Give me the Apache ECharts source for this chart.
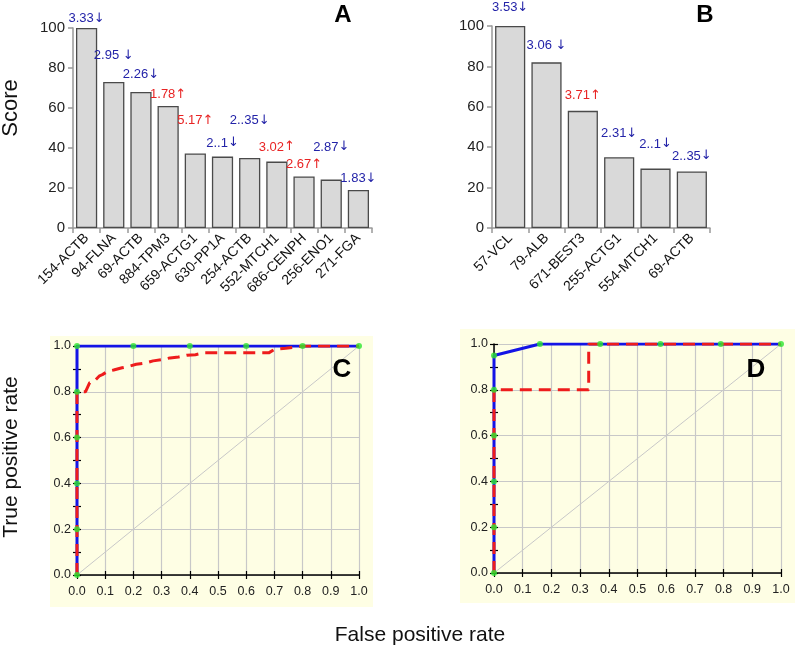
<!DOCTYPE html>
<html><head><meta charset="utf-8">
<script src="https://cdn.jsdelivr.net/npm/echarts@6/dist/echarts.min.js"></script>
<style>html,body{margin:0;padding:0;background:#fff}#c{width:795px;height:648px}</style>
</head><body><div id="c"></div>
<script>
// ---- Data ----
const catsA = ['154-ACTB','94-FLNA','69-ACTB','884-TPM3','659-ACTG1','630-PP1A','254-ACTB','552-MTCH1','686-CENPH','256-ENO1','271-FGA'];
const valsA = [100, 73, 68, 61, 37.3, 35.7, 35, 33.2, 25.8, 24.2, 19];
const labelsA = ['3.33↓','2.95 ↓','2.26↓','1.78↑','5.17↑','2..1↓','2..35↓','3.02↑','2.67↑','2.87↓','1.83↓'];

const catsB = ['57-VCL','79-ALB','671-BEST3','255-ACTG1','554-MTCH1','69-ACTB'];
const valsB = [100, 82, 58, 35, 29.4, 28];
const labelsB = ['3.53↓','3.06 ↓','3.71↑','2.31↓','2..1↓','2..35↓'];

const yTicksBar = [0, 20, 40, 60, 80, 100];
const rocTicks = [0, 0.1, 0.2, 0.3, 0.4, 0.5, 0.6, 0.7, 0.8, 0.9, 1.0];

const cBlueX = [0, 0, 1];
const cBlueY = [0, 1, 1];
const cRedX = [0, 0, 0.03, 0.045, 0.06, 0.08, 0.09, 0.11, 0.13, 0.16, 0.18, 0.21, 0.24, 0.27, 0.30, 0.33, 0.36, 0.39, 0.42, 0.45, 0.48, 0.68, 0.70, 0.74, 0.77, 0.80, 1.0];
const cRedY = [0, 0.80, 0.80, 0.84, 0.845, 0.87, 0.875, 0.89, 0.895, 0.905, 0.91, 0.92, 0.925, 0.935, 0.94, 0.948, 0.952, 0.96, 0.962, 0.97, 0.97, 0.97, 0.985, 0.99, 0.995, 1.0, 1.0];
const cDotX = [0, 0, 0, 0, 0, 0, 0.2, 0.4, 0.6, 0.8, 1.0];
const cDotY = [0, 0.2, 0.4, 0.6, 0.8, 1.0, 1.0, 1.0, 1.0, 1.0, 1.0];

const dBlueX = [0, 0, 0.16, 1];
const dBlueY = [0, 0.95, 1, 1];
const dRedX = [0, 0, 0.33, 0.33, 1];
const dRedY = [0, 0.8, 0.8, 1, 1];
const dDotX = [0, 0, 0, 0, 0, 0, 0.16, 0.37, 0.58, 0.79, 1.0];
const dDotY = [0, 0.2, 0.4, 0.6, 0.8, 0.95, 1.0, 1.0, 1.0, 1.0, 1.0];

// ---- Layout / style (not data) ----
const liftA = [3, 20, 11, 5, 26, 7, 31, 8, 5, 26, 5];
const liftB = [12, 10, 9, 17, 18, 9];
const FONT = 'Arial, "Liberation Sans", sans-serif';
const BLUE_T = '#2323a8', RED_T = '#e82323';

const zip = (xs, ys) => xs.map((x, i) => [x, ys[i]]);
const richLabel = s => {
  const m = s.match(/^(.*?)(\s?)([↑↓])$/);
  return '{n|' + m[1] + m[2] + '}{a|' + m[3] + '}';
};
const barData = (vals, labels, lifts) => vals.map((v, i) => {
  const col = labels[i].indexOf('↑') >= 0 ? RED_T : BLUE_T;
  return {
    value: v,
    label: {
      distance: lifts[i], formatter: richLabel(labels[i]),
      rich: {
        n: { color: col, fontSize: 13, fontFamily: FONT },
        a: { color: col, fontSize: 13, fontFamily: '"DejaVu Sans", sans-serif' }
      }
    }
  };
});

function barX(idx, cats) {
  return {
    gridIndex: idx, type: 'category', data: cats,
    axisLine: { lineStyle: { color: '#999', width: 1.5 } },
    axisTick: { show: true, alignWithLabel: false, length: 5, lineStyle: { color: '#999', width: 1.5 } },
    axisLabel: { rotate: 45, interval: 0, fontSize: 14, color: '#111', fontFamily: FONT, margin: 8 }
  };
}
function barY(idx) {
  return {
    gridIndex: idx, type: 'value', min: yTicksBar[0], max: yTicksBar[yTicksBar.length - 1], interval: 20,
    axisLine: { show: true, lineStyle: { color: '#999', width: 1.5 } },
    axisTick: { show: true, length: 5, lineStyle: { color: '#999', width: 1.5 } },
    splitLine: { show: false },
    axisLabel: { fontSize: 15, color: '#222', fontFamily: FONT, margin: 8 }
  };
}
function rocX(idx) {
  return [{
    gridIndex: idx, type: 'value', min: rocTicks[0], max: rocTicks[rocTicks.length - 1], interval: 0.1, position: 'bottom',
    axisLine: { show: true, onZero: false, lineStyle: { color: '#000', width: 1.5 } },
    axisTick: { show: true, length: 4, lineStyle: { color: '#000', width: 1.2 } },
    splitLine: { show: true, lineStyle: { color: '#c8c8c8', width: 1.2 } },
    axisLabel: { fontSize: 12.5, color: '#222', fontFamily: FONT, margin: 10, formatter: v => v.toFixed(1) }
  }, {
    gridIndex: idx, type: 'value', min: 0, max: 1, interval: 0.1, position: 'bottom',
    axisLine: { show: false }, axisLabel: { show: false }, splitLine: { show: false },
    axisTick: { show: true, inside: true, length: 4, lineStyle: { color: '#000', width: 1.2 } }
  }];
}
function rocY(idx) {
  return [{
    gridIndex: idx, type: 'value', min: 0, max: 1, interval: 0.2, position: 'left',
    axisLine: { show: true, onZero: false, lineStyle: { color: '#000', width: 1.5 } },
    axisTick: { show: true, length: 4, lineStyle: { color: '#000', width: 1.2 } },
    minorTick: { show: true, splitNumber: 2, length: 4, lineStyle: { color: '#000', width: 1.2 } },
    splitLine: { show: true, lineStyle: { color: '#c8c8c8', width: 1.2 } },
    axisLabel: { fontSize: 12.5, color: '#222', fontFamily: FONT, margin: 6, formatter: v => v.toFixed(1) }
  }, {
    gridIndex: idx, type: 'value', min: 0, max: 1, interval: 0.1, position: 'left',
    axisLine: { show: false }, axisLabel: { show: false }, splitLine: { show: false },
    axisTick: { show: true, inside: true, length: 4, lineStyle: { color: '#000', width: 1.2 } }
  }];
}
function rocSeries(xi, yi, blue, red, dots) {
  return [
    { type: 'line', xAxisIndex: xi, yAxisIndex: yi, data: [[0, 0], [1, 1]], symbol: 'none', silent: true,
      lineStyle: { color: '#c8c8c8', width: 1 }, z: 2 },
    { type: 'line', xAxisIndex: xi, yAxisIndex: yi, data: blue, symbol: 'none',
      lineStyle: { color: '#1414e6', width: 3 }, z: 3 },
    { type: 'line', xAxisIndex: xi, yAxisIndex: yi, data: red, symbol: 'none',
      lineStyle: { color: '#ee1c1c', width: 3, type: [12, 7] }, z: 4 },
    { type: 'scatter', xAxisIndex: xi, yAxisIndex: yi, data: dots, symbolSize: 6,
      itemStyle: { color: '#2ee62e' }, z: 5 }
  ];
}

const chart = echarts.init(document.getElementById('c'), null, { renderer: 'canvas' });
const barStyle = { color: '#d9d9d9', borderColor: '#4a4a4a', borderWidth: 1.3 };
const option = {
  animation: false,
  backgroundColor: '#fff',
  textStyle: { fontFamily: FONT },
  grid: [
    { left: 73, top: 28, width: 299, height: 200 },
    { left: 492, top: 26, width: 218, height: 202 },
    { left: 77, top: 346, width: 282, height: 229 },
    { left: 494, top: 344, width: 287, height: 229 }
  ],
  xAxis: [barX(0, catsA), barX(1, catsB), ...rocX(2), ...rocX(3)],
  yAxis: [barY(0), barY(1), ...rocY(2), ...rocY(3)],
  graphic: [
    { type: 'rect', shape: { x: 50, y: 336, width: 323, height: 271 }, style: { fill: '#fefee4' }, z: -10 },
    { type: 'rect', shape: { x: 460, y: 329, width: 335, height: 274 }, style: { fill: '#fefee4' }, z: -10 },
    { type: 'text', x: 343, y: 15, style: { text: 'A', font: 'bold 24px ' + FONT, fill: '#000', textAlign: 'center', textVerticalAlign: 'middle' } },
    { type: 'text', x: 705, y: 15, style: { text: 'B', font: 'bold 24px ' + FONT, fill: '#000', textAlign: 'center', textVerticalAlign: 'middle' } },
    { type: 'text', x: 342, y: 370, style: { text: 'C', font: 'bold 26px ' + FONT, fill: '#000', textAlign: 'center', textVerticalAlign: 'middle' }, z: 10 },
    { type: 'text', x: 756, y: 370, style: { text: 'D', font: 'bold 26px ' + FONT, fill: '#000', textAlign: 'center', textVerticalAlign: 'middle' }, z: 10 },
    { type: 'text', x: 11, y: 108, rotation: Math.PI / 2, style: { text: 'Score', font: '22px ' + FONT, fill: '#111', textAlign: 'center', textVerticalAlign: 'middle' } },
    { type: 'text', x: 11, y: 457, rotation: Math.PI / 2, style: { text: 'True positive rate', font: '21px ' + FONT, fill: '#111', textAlign: 'center', textVerticalAlign: 'middle' } },
    { type: 'text', x: 420, y: 635, style: { text: 'False positive rate', font: '21px ' + FONT, fill: '#111', textAlign: 'center', textVerticalAlign: 'middle' } }
  ],
  series: [
    { type: 'bar', xAxisIndex: 0, yAxisIndex: 0, data: barData(valsA, labelsA, liftA), barCategoryGap: '22%',
      itemStyle: barStyle, label: { show: true, position: 'top' } },
    { type: 'bar', xAxisIndex: 1, yAxisIndex: 1, data: barData(valsB, labelsB, liftB), barCategoryGap: '17%',
      itemStyle: barStyle, label: { show: true, position: 'top' } },
    ...rocSeries(2, 2, zip(cBlueX, cBlueY), zip(cRedX, cRedY), zip(cDotX, cDotY)),
    ...rocSeries(4, 4, zip(dBlueX, dBlueY), zip(dRedX, dRedY), zip(dDotX, dDotY))
  ]
};
chart.setOption(option);
</script></body></html>
